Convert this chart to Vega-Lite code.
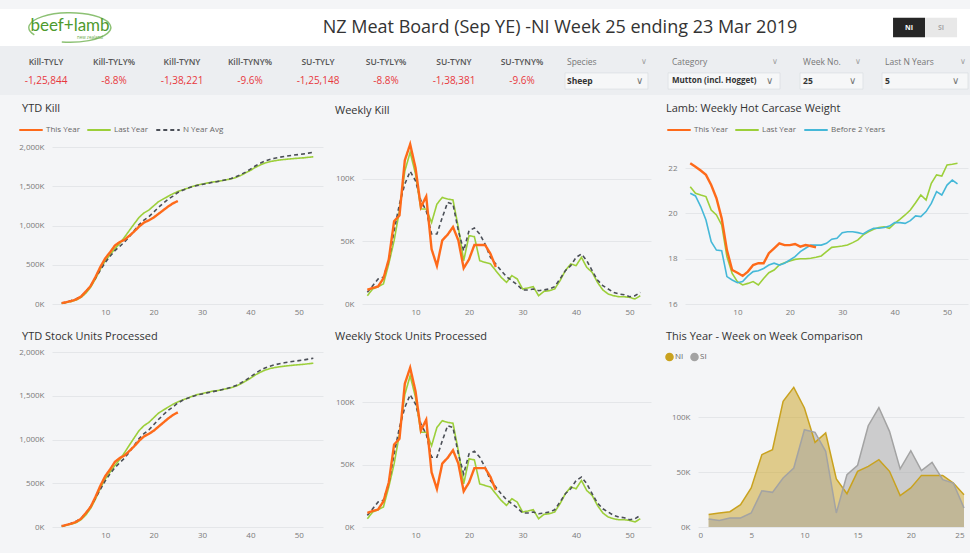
{
"$schema": "https://vega.github.io/schema/vega-lite/v6.json",
"background": "#f4f5f7",
"padding": {"left": 0, "top": 9, "right": 0, "bottom": 14},
"config": {
  "font": "Open Sans",
  "view": {"stroke": null},
  "axis": {"domain": false, "ticks": false, "labelColor": "#7a7a7a", "labelFontSize": 8, "gridColor": "#e4e6e9", "title": null},
  "axisX": {"grid": false, "labelPadding": 4},
  "axisY": {"labelPadding": 8},
  "title": {"anchor": "start", "fontSize": 11, "fontWeight": "normal", "color": "#333333", "frame": "group"},
  "legend": {"labelFontSize": 8, "labelColor": "#666666", "title": null}
},
"datasets": {
  "ytd": [
    {"w":1,"s":"This Year","v":11000},{"w":2,"s":"This Year","v":24000},{"w":3,"s":"This Year","v":38000},{"w":4,"s":"This Year","v":59000},{"w":5,"s":"This Year","v":94000},{"w":6,"s":"This Year","v":160000},{"w":7,"s":"This Year","v":231000},{"w":8,"s":"This Year","v":346000},{"w":9,"s":"This Year","v":473000},{"w":10,"s":"This Year","v":582000},{"w":11,"s":"This Year","v":659000},{"w":12,"s":"This Year","v":745000},{"w":13,"s":"This Year","v":789000},{"w":14,"s":"This Year","v":819000},{"w":15,"s":"This Year","v":870000},{"w":16,"s":"This Year","v":925000},{"w":17,"s":"This Year","v":986000},{"w":18,"s":"This Year","v":1037000},{"w":19,"s":"This Year","v":1066000},{"w":20,"s":"This Year","v":1101000},{"w":21,"s":"This Year","v":1148000},{"w":22,"s":"This Year","v":1195000},{"w":23,"s":"This Year","v":1242000},{"w":24,"s":"This Year","v":1282000},{"w":25,"s":"This Year","v":1312000},
    {"w":1,"s":"Last Year","v":7000},{"w":2,"s":"Last Year","v":19000},{"w":3,"s":"Last Year","v":33000},{"w":4,"s":"Last Year","v":50000},{"w":5,"s":"Last Year","v":84000},{"w":6,"s":"Last Year","v":138000},{"w":7,"s":"Last Year","v":215000},{"w":8,"s":"Last Year","v":322000},{"w":9,"s":"Last Year","v":445000},{"w":10,"s":"Last Year","v":550000},{"w":11,"s":"Last Year","v":628000},{"w":12,"s":"Last Year","v":705000},{"w":13,"s":"Last Year","v":772000},{"w":14,"s":"Last Year","v":852000},{"w":15,"s":"Last Year","v":938000},{"w":16,"s":"Last Year","v":1022000},{"w":17,"s":"Last Year","v":1104000},{"w":18,"s":"Last Year","v":1160000},{"w":19,"s":"Last Year","v":1196000},{"w":20,"s":"Last Year","v":1250000},{"w":21,"s":"Last Year","v":1303000},{"w":22,"s":"Last Year","v":1338000},{"w":23,"s":"Last Year","v":1372000},{"w":24,"s":"Last Year","v":1405000},{"w":25,"s":"Last Year","v":1432000},{"w":26,"s":"Last Year","v":1455000},{"w":27,"s":"Last Year","v":1474000},{"w":28,"s":"Last Year","v":1497000},{"w":29,"s":"Last Year","v":1515000},{"w":30,"s":"Last Year","v":1527000},{"w":31,"s":"Last Year","v":1540000},{"w":32,"s":"Last Year","v":1553000},{"w":33,"s":"Last Year","v":1560000},{"w":34,"s":"Last Year","v":1570000},{"w":35,"s":"Last Year","v":1582000},{"w":36,"s":"Last Year","v":1594000},{"w":37,"s":"Last Year","v":1612000},{"w":38,"s":"Last Year","v":1638000},{"w":39,"s":"Last Year","v":1670000},{"w":40,"s":"Last Year","v":1702000},{"w":41,"s":"Last Year","v":1740000},{"w":42,"s":"Last Year","v":1770000},{"w":43,"s":"Last Year","v":1795000},{"w":44,"s":"Last Year","v":1813000},{"w":45,"s":"Last Year","v":1825000},{"w":46,"s":"Last Year","v":1834000},{"w":47,"s":"Last Year","v":1841000},{"w":48,"s":"Last Year","v":1847000},{"w":49,"s":"Last Year","v":1853000},{"w":50,"s":"Last Year","v":1858000},{"w":51,"s":"Last Year","v":1862000},{"w":52,"s":"Last Year","v":1869000},{"w":53,"s":"Last Year","v":1875000},
    {"w":1,"s":"N Year Avg","v":9000},{"w":2,"s":"N Year Avg","v":24000},{"w":3,"s":"N Year Avg","v":44000},{"w":4,"s":"N Year Avg","v":65000},{"w":5,"s":"N Year Avg","v":100000},{"w":6,"s":"N Year Avg","v":158000},{"w":7,"s":"N Year Avg","v":236000},{"w":8,"s":"N Year Avg","v":330000},{"w":9,"s":"N Year Avg","v":432000},{"w":10,"s":"N Year Avg","v":528000},{"w":11,"s":"N Year Avg","v":608000},{"w":12,"s":"N Year Avg","v":680000},{"w":13,"s":"N Year Avg","v":735000},{"w":14,"s":"N Year Avg","v":790000},{"w":15,"s":"N Year Avg","v":858000},{"w":16,"s":"N Year Avg","v":936000},{"w":17,"s":"N Year Avg","v":1012000},{"w":18,"s":"N Year Avg","v":1068000},{"w":19,"s":"N Year Avg","v":1110000},{"w":20,"s":"N Year Avg","v":1170000},{"w":21,"s":"N Year Avg","v":1230000},{"w":22,"s":"N Year Avg","v":1285000},{"w":23,"s":"N Year Avg","v":1335000},{"w":24,"s":"N Year Avg","v":1375000},{"w":25,"s":"N Year Avg","v":1420000},{"w":26,"s":"N Year Avg","v":1450000},{"w":27,"s":"N Year Avg","v":1474000},{"w":28,"s":"N Year Avg","v":1494000},{"w":29,"s":"N Year Avg","v":1510000},{"w":30,"s":"N Year Avg","v":1523000},{"w":31,"s":"N Year Avg","v":1535000},{"w":32,"s":"N Year Avg","v":1547000},{"w":33,"s":"N Year Avg","v":1558000},{"w":34,"s":"N Year Avg","v":1570000},{"w":35,"s":"N Year Avg","v":1583000},{"w":36,"s":"N Year Avg","v":1598000},{"w":37,"s":"N Year Avg","v":1620000},{"w":38,"s":"N Year Avg","v":1648000},{"w":39,"s":"N Year Avg","v":1680000},{"w":40,"s":"N Year Avg","v":1718000},{"w":41,"s":"N Year Avg","v":1758000},{"w":42,"s":"N Year Avg","v":1793000},{"w":43,"s":"N Year Avg","v":1820000},{"w":44,"s":"N Year Avg","v":1840000},{"w":45,"s":"N Year Avg","v":1856000},{"w":46,"s":"N Year Avg","v":1869000},{"w":47,"s":"N Year Avg","v":1880000},{"w":48,"s":"N Year Avg","v":1889000},{"w":49,"s":"N Year Avg","v":1897000},{"w":50,"s":"N Year Avg","v":1904000},{"w":51,"s":"N Year Avg","v":1912000},{"w":52,"s":"N Year Avg","v":1922000},{"w":53,"s":"N Year Avg","v":1932000}
  ],
  "weekly": [
    {"w":1,"s":"This Year","v":11300},{"w":2,"s":"This Year","v":12800},{"w":3,"s":"This Year","v":14000},{"w":4,"s":"This Year","v":20400},{"w":5,"s":"This Year","v":35600},{"w":6,"s":"This Year","v":66000},{"w":7,"s":"This Year","v":70600},{"w":8,"s":"This Year","v":114600},{"w":9,"s":"This Year","v":127400},{"w":10,"s":"This Year","v":108600},{"w":11,"s":"This Year","v":77200},{"w":12,"s":"This Year","v":85800},{"w":13,"s":"This Year","v":43800},{"w":14,"s":"This Year","v":30400},{"w":15,"s":"This Year","v":50800},{"w":16,"s":"This Year","v":55300},{"w":17,"s":"This Year","v":61400},{"w":18,"s":"This Year","v":50800},{"w":19,"s":"This Year","v":28600},{"w":20,"s":"This Year","v":35600},{"w":21,"s":"This Year","v":47100},{"w":22,"s":"This Year","v":47100},{"w":23,"s":"This Year","v":47100},{"w":24,"s":"This Year","v":40100},{"w":25,"s":"This Year","v":29500},
    {"w":1,"s":"Last Year","v":6600},{"w":2,"s":"Last Year","v":12000},{"w":3,"s":"Last Year","v":13800},{"w":4,"s":"Last Year","v":16000},{"w":5,"s":"Last Year","v":32000},{"w":6,"s":"Last Year","v":50500},{"w":7,"s":"Last Year","v":74400},{"w":8,"s":"Last Year","v":106000},{"w":9,"s":"Last Year","v":121000},{"w":10,"s":"Last Year","v":103700},{"w":11,"s":"Last Year","v":75800},{"w":12,"s":"Last Year","v":75800},{"w":13,"s":"Last Year","v":65000},{"w":14,"s":"Last Year","v":79700},{"w":15,"s":"Last Year","v":85000},{"w":16,"s":"Last Year","v":83700},{"w":17,"s":"Last Year","v":83000},{"w":18,"s":"Last Year","v":61000},{"w":19,"s":"Last Year","v":34500},{"w":20,"s":"Last Year","v":54500},{"w":21,"s":"Last Year","v":53700},{"w":22,"s":"Last Year","v":34500},{"w":23,"s":"Last Year","v":33200},{"w":24,"s":"Last Year","v":32000},{"w":25,"s":"Last Year","v":26600},{"w":26,"s":"Last Year","v":21300},{"w":27,"s":"Last Year","v":17300},{"w":28,"s":"Last Year","v":22600},{"w":29,"s":"Last Year","v":20000},{"w":30,"s":"Last Year","v":12000},{"w":31,"s":"Last Year","v":12800},{"w":32,"s":"Last Year","v":13800},{"w":33,"s":"Last Year","v":6600},{"w":34,"s":"Last Year","v":10100},{"w":35,"s":"Last Year","v":10600},{"w":36,"s":"Last Year","v":12000},{"w":37,"s":"Last Year","v":18600},{"w":38,"s":"Last Year","v":26600},{"w":39,"s":"Last Year","v":32000},{"w":40,"s":"Last Year","v":30600},{"w":41,"s":"Last Year","v":37200},{"w":42,"s":"Last Year","v":29200},{"w":43,"s":"Last Year","v":25300},{"w":44,"s":"Last Year","v":17300},{"w":45,"s":"Last Year","v":11200},{"w":46,"s":"Last Year","v":8000},{"w":47,"s":"Last Year","v":6600},{"w":48,"s":"Last Year","v":5800},{"w":49,"s":"Last Year","v":5800},{"w":50,"s":"Last Year","v":5300},{"w":51,"s":"Last Year","v":4000},{"w":52,"s":"Last Year","v":6600},
    {"w":1,"s":"N Year Avg","v":9300},{"w":2,"s":"N Year Avg","v":14600},{"w":3,"s":"N Year Avg","v":20000},{"w":4,"s":"N Year Avg","v":21300},{"w":5,"s":"N Year Avg","v":34600},{"w":6,"s":"N Year Avg","v":58500},{"w":7,"s":"N Year Avg","v":79700},{"w":8,"s":"N Year Avg","v":95700},{"w":9,"s":"N Year Avg","v":105800},{"w":10,"s":"N Year Avg","v":98300},{"w":11,"s":"N Year Avg","v":82400},{"w":12,"s":"N Year Avg","v":74400},{"w":13,"s":"N Year Avg","v":55800},{"w":14,"s":"N Year Avg","v":55800},{"w":15,"s":"N Year Avg","v":69000},{"w":16,"s":"N Year Avg","v":81000},{"w":17,"s":"N Year Avg","v":79700},{"w":18,"s":"N Year Avg","v":58500},{"w":19,"s":"N Year Avg","v":42500},{"w":20,"s":"N Year Avg","v":58500},{"w":21,"s":"N Year Avg","v":60600},{"w":22,"s":"N Year Avg","v":55800},{"w":23,"s":"N Year Avg","v":47800},{"w":24,"s":"N Year Avg","v":37200},{"w":25,"s":"N Year Avg","v":31900},{"w":26,"s":"N Year Avg","v":26600},{"w":27,"s":"N Year Avg","v":21800},{"w":28,"s":"N Year Avg","v":18600},{"w":29,"s":"N Year Avg","v":15400},{"w":30,"s":"N Year Avg","v":11200},{"w":31,"s":"N Year Avg","v":11200},{"w":32,"s":"N Year Avg","v":12000},{"w":33,"s":"N Year Avg","v":10600},{"w":34,"s":"N Year Avg","v":11200},{"w":35,"s":"N Year Avg","v":12000},{"w":36,"s":"N Year Avg","v":13800},{"w":37,"s":"N Year Avg","v":20000},{"w":38,"s":"N Year Avg","v":26600},{"w":39,"s":"N Year Avg","v":30600},{"w":40,"s":"N Year Avg","v":37200},{"w":41,"s":"N Year Avg","v":39900},{"w":42,"s":"N Year Avg","v":34600},{"w":43,"s":"N Year Avg","v":26600},{"w":44,"s":"N Year Avg","v":19100},{"w":45,"s":"N Year Avg","v":14600},{"w":46,"s":"N Year Avg","v":12000},{"w":47,"s":"N Year Avg","v":9300},{"w":48,"s":"N Year Avg","v":8000},{"w":49,"s":"N Year Avg","v":7400},{"w":50,"s":"N Year Avg","v":5800},{"w":51,"s":"N Year Avg","v":6600},{"w":52,"s":"N Year Avg","v":9300}
  ],
  "lamb": [
    {"w":1,"s":"This Year","v":22.21},{"w":2,"s":"This Year","v":22.06},{"w":3,"s":"This Year","v":21.89},{"w":4,"s":"This Year","v":21.7},{"w":5,"s":"This Year","v":21.25},{"w":6,"s":"This Year","v":20.67},{"w":7,"s":"This Year","v":19.78},{"w":8,"s":"This Year","v":18.38},{"w":9,"s":"This Year","v":17.5},{"w":10,"s":"This Year","v":17.38},{"w":11,"s":"This Year","v":17.24},{"w":12,"s":"This Year","v":17.43},{"w":13,"s":"This Year","v":17.72},{"w":14,"s":"This Year","v":17.8},{"w":15,"s":"This Year","v":17.8},{"w":16,"s":"This Year","v":18.24},{"w":17,"s":"This Year","v":18.46},{"w":18,"s":"This Year","v":18.68},{"w":19,"s":"This Year","v":18.6},{"w":20,"s":"This Year","v":18.6},{"w":21,"s":"This Year","v":18.65},{"w":22,"s":"This Year","v":18.53},{"w":23,"s":"This Year","v":18.6},{"w":24,"s":"This Year","v":18.56},{"w":25,"s":"This Year","v":18.5},
    {"w":1,"s":"Last Year","v":21.18},{"w":2,"s":"Last Year","v":20.89},{"w":3,"s":"Last Year","v":20.81},{"w":4,"s":"Last Year","v":20.74},{"w":5,"s":"Last Year","v":20.15},{"w":6,"s":"Last Year","v":19.93},{"w":7,"s":"Last Year","v":19.49},{"w":8,"s":"Last Year","v":18.09},{"w":9,"s":"Last Year","v":17.35},{"w":10,"s":"Last Year","v":16.99},{"w":11,"s":"Last Year","v":16.84},{"w":12,"s":"Last Year","v":16.91},{"w":13,"s":"Last Year","v":16.99},{"w":14,"s":"Last Year","v":16.84},{"w":15,"s":"Last Year","v":17.13},{"w":16,"s":"Last Year","v":17.38},{"w":17,"s":"Last Year","v":17.5},{"w":18,"s":"Last Year","v":17.72},{"w":19,"s":"Last Year","v":17.82},{"w":20,"s":"Last Year","v":17.9},{"w":21,"s":"Last Year","v":17.97},{"w":22,"s":"Last Year","v":18.0},{"w":23,"s":"Last Year","v":18.0},{"w":24,"s":"Last Year","v":18.02},{"w":25,"s":"Last Year","v":18.06},{"w":26,"s":"Last Year","v":18.12},{"w":27,"s":"Last Year","v":18.31},{"w":28,"s":"Last Year","v":18.5},{"w":29,"s":"Last Year","v":18.53},{"w":30,"s":"Last Year","v":18.56},{"w":31,"s":"Last Year","v":18.6},{"w":32,"s":"Last Year","v":18.71},{"w":33,"s":"Last Year","v":18.83},{"w":34,"s":"Last Year","v":19.05},{"w":35,"s":"Last Year","v":19.19},{"w":36,"s":"Last Year","v":19.3},{"w":37,"s":"Last Year","v":19.38},{"w":38,"s":"Last Year","v":19.41},{"w":39,"s":"Last Year","v":19.34},{"w":40,"s":"Last Year","v":19.56},{"w":41,"s":"Last Year","v":19.74},{"w":42,"s":"Last Year","v":19.93},{"w":43,"s":"Last Year","v":20.15},{"w":44,"s":"Last Year","v":20.47},{"w":45,"s":"Last Year","v":20.81},{"w":46,"s":"Last Year","v":20.59},{"w":47,"s":"Last Year","v":21.33},{"w":48,"s":"Last Year","v":21.7},{"w":49,"s":"Last Year","v":21.65},{"w":50,"s":"Last Year","v":22.14},{"w":51,"s":"Last Year","v":22.17},{"w":52,"s":"Last Year","v":22.21},
    {"w":1,"s":"Before 2 Years","v":20.89},{"w":2,"s":"Before 2 Years","v":20.77},{"w":3,"s":"Before 2 Years","v":20.3},{"w":4,"s":"Before 2 Years","v":19.71},{"w":5,"s":"Before 2 Years","v":18.75},{"w":6,"s":"Before 2 Years","v":18.38},{"w":7,"s":"Before 2 Years","v":18.35},{"w":8,"s":"Before 2 Years","v":17.21},{"w":9,"s":"Before 2 Years","v":17.06},{"w":10,"s":"Before 2 Years","v":16.94},{"w":11,"s":"Before 2 Years","v":16.99},{"w":12,"s":"Before 2 Years","v":17.24},{"w":13,"s":"Before 2 Years","v":17.43},{"w":14,"s":"Before 2 Years","v":17.47},{"w":15,"s":"Before 2 Years","v":17.57},{"w":16,"s":"Before 2 Years","v":17.72},{"w":17,"s":"Before 2 Years","v":17.8},{"w":18,"s":"Before 2 Years","v":17.72},{"w":19,"s":"Before 2 Years","v":17.8},{"w":20,"s":"Before 2 Years","v":17.94},{"w":21,"s":"Before 2 Years","v":18.09},{"w":22,"s":"Before 2 Years","v":18.31},{"w":23,"s":"Before 2 Years","v":18.46},{"w":24,"s":"Before 2 Years","v":18.6},{"w":25,"s":"Before 2 Years","v":18.6},{"w":26,"s":"Before 2 Years","v":18.6},{"w":27,"s":"Before 2 Years","v":18.68},{"w":28,"s":"Before 2 Years","v":18.86},{"w":29,"s":"Before 2 Years","v":18.9},{"w":30,"s":"Before 2 Years","v":19.15},{"w":31,"s":"Before 2 Years","v":19.19},{"w":32,"s":"Before 2 Years","v":19.19},{"w":33,"s":"Before 2 Years","v":19.15},{"w":34,"s":"Before 2 Years","v":19.09},{"w":35,"s":"Before 2 Years","v":19.24},{"w":36,"s":"Before 2 Years","v":19.34},{"w":37,"s":"Before 2 Years","v":19.34},{"w":38,"s":"Before 2 Years","v":19.38},{"w":39,"s":"Before 2 Years","v":19.44},{"w":40,"s":"Before 2 Years","v":19.59},{"w":41,"s":"Before 2 Years","v":19.59},{"w":42,"s":"Before 2 Years","v":19.56},{"w":43,"s":"Before 2 Years","v":19.68},{"w":44,"s":"Before 2 Years","v":19.89},{"w":45,"s":"Before 2 Years","v":19.86},{"w":46,"s":"Before 2 Years","v":20.08},{"w":47,"s":"Before 2 Years","v":20.44},{"w":48,"s":"Before 2 Years","v":20.96},{"w":49,"s":"Before 2 Years","v":20.81},{"w":50,"s":"Before 2 Years","v":21.25},{"w":51,"s":"Before 2 Years","v":21.47},{"w":52,"s":"Before 2 Years","v":21.3}
  ],
  "wow": [
    {"w":1,"r":"NI","v":11300},{"w":2,"r":"NI","v":12800},{"w":3,"r":"NI","v":14000},{"w":4,"r":"NI","v":20400},{"w":5,"r":"NI","v":35600},{"w":6,"r":"NI","v":66000},{"w":7,"r":"NI","v":70600},{"w":8,"r":"NI","v":114600},{"w":9,"r":"NI","v":127400},{"w":10,"r":"NI","v":108600},{"w":11,"r":"NI","v":77200},{"w":12,"r":"NI","v":85800},{"w":13,"r":"NI","v":43800},{"w":14,"r":"NI","v":30400},{"w":15,"r":"NI","v":50800},{"w":16,"r":"NI","v":55300},{"w":17,"r":"NI","v":61400},{"w":18,"r":"NI","v":50800},{"w":19,"r":"NI","v":28600},{"w":20,"r":"NI","v":35600},{"w":21,"r":"NI","v":47100},{"w":22,"r":"NI","v":47100},{"w":23,"r":"NI","v":47100},{"w":24,"r":"NI","v":40100},{"w":25,"r":"NI","v":29500},
    {"w":1,"r":"SI","v":7300},{"w":2,"r":"SI","v":6000},{"w":3,"r":"SI","v":8200},{"w":4,"r":"SI","v":8200},{"w":5,"r":"SI","v":12800},{"w":6,"r":"SI","v":33000},{"w":7,"r":"SI","v":31600},{"w":8,"r":"SI","v":44700},{"w":9,"r":"SI","v":53800},{"w":10,"r":"SI","v":88800},{"w":11,"r":"SI","v":86400},{"w":12,"r":"SI","v":69000},{"w":13,"r":"SI","v":12800},{"w":14,"r":"SI","v":47700},{"w":15,"r":"SI","v":56300},{"w":16,"r":"SI","v":92400},{"w":17,"r":"SI","v":109000},{"w":18,"r":"SI","v":87300},{"w":19,"r":"SI","v":53000},{"w":20,"r":"SI","v":69600},{"w":21,"r":"SI","v":51400},{"w":22,"r":"SI","v":59000},{"w":23,"r":"SI","v":43200},{"w":24,"r":"SI","v":40000},{"w":25,"r":"SI","v":17300}
  ]
},
"resolve": {"scale": {"color": "independent", "strokeDash": "independent"}, "legend": {"color": "independent", "strokeDash": "independent"}},
"bounds": "full",
"spacing": 0,
"vconcat": [
  {
    "hconcat": [
      {
        "width": 140, "height": 37, "view": {"fill": "#ffffff"},
        "data": {"values": [{"brand": "beef+lamb", "sub": "new zealand"}]},
        "layer": [
          {"mark": {"type": "point", "shape": "M -0.2 0.353 A 1 0.36 0 1 0 -0.87 0.18", "size": 6724, "filled": false, "stroke": "#5da83a", "strokeWidth": 1.4}, "encoding": {}},
          {"mark": {"type": "text", "fontSize": 17, "font": "Lato", "color": "#4e9a2e", "dy": -2}, "encoding": {"text": {"field": "brand"}}},
          {"mark": {"type": "text", "fontSize": 4.5, "color": "#6aaa4a", "dx": 20, "dy": 10}, "encoding": {"text": {"field": "sub"}}}
        ]
      },
      {
        "width": 730, "height": 37, "view": {"fill": "#ffffff"},
        "data": {"values": [{"t": "NZ Meat Board (Sep YE) -NI Week 25 ending 23 Mar 2019"}]},
        "mark": {"type": "text", "fontSize": 18, "color": "#333333", "dx": 55, "dy": 0},
        "encoding": {"text": {"field": "t"}}
      },
      {
        "width": 100, "height": 37, "view": {"fill": "#ffffff"},
        "data": {"values": [{"r": "NI", "on": "yes"}, {"r": "SI", "on": "no"}]},
        "encoding": {
          "x": {"field": "r", "type": "nominal", "axis": null, "scale": {"type": "band", "paddingInner": 0, "paddingOuter": 0.5625, "align": 0.64}},
          "y": {"datum": "t", "type": "nominal", "axis": null, "scale": {"type": "band", "paddingInner": 0, "paddingOuter": 0.45}}
        },
        "layer": [
          {"mark": {"type": "rect"}, "encoding": {"color": {"condition": {"test": "datum.on == 'yes'", "value": "#262626"}, "value": "#e8e8e8"}}},
          {"mark": {"type": "text", "fontSize": 7, "fontWeight": "bold"}, "encoding": {"text": {"field": "r"}, "color": {"condition": {"test": "datum.on == 'yes'", "value": "#ffffff"}, "value": "#a8a8a8"}}}
        ]
      }
    ],
    "spacing": 0, "bounds": "flush"
  },
  {
    "hconcat": [
      {
        "width": 558, "height": 49, "view": {"fill": "#eceef1"},
        "data": {"values": [
          {"kpi": "Kill-TYLY", "val": "-1,25,844"}, {"kpi": "Kill-TYLY%", "val": "-8.8%"}, {"kpi": "Kill-TYNY", "val": "-1,38,221"}, {"kpi": "Kill-TYNY%", "val": "-9.6%"},
          {"kpi": "SU-TYLY", "val": "-1,25,148"}, {"kpi": "SU-TYLY%", "val": "-8.8%"}, {"kpi": "SU-TYNY", "val": "-1,38,381"}, {"kpi": "SU-TYNY%", "val": "-9.6%"}
        ]},
        "encoding": {"x": {"field": "kpi", "type": "nominal", "sort": null, "axis": null, "scale": {"type": "band", "paddingInner": 0, "paddingOuter": 0.103, "align": 0.857}}},
        "layer": [
          {"mark": {"type": "text", "fontSize": 8.5, "fontWeight": 600, "color": "#555555"}, "encoding": {"text": {"field": "kpi"}, "y": {"datum": "label", "type": "nominal", "axis": null, "scale": {"type": "band", "domain": ["label", "value"], "paddingInner": 0, "paddingOuter": 0.289, "align": 0.59}}}},
          {"mark": {"type": "text", "fontSize": 10, "color": "#e8383d"}, "encoding": {"text": {"field": "val"}, "y": {"datum": "value", "type": "nominal"}}}
        ]
      },
      {
        "width": 102, "height": 49, "view": {"fill": "#eceef1"},
        "data": {"values": [{"label": "Species", "value": "Sheep"}]},
        "layer": [
          {"mark": {"type": "bar", "fill": "#f6f7f8", "stroke": "#dcdfe3", "strokeWidth": 0.8, "height": {"band": 0.85}}, "encoding": {"x": {"datum": 0.069, "type": "quantitative", "axis": null, "scale": {"domain": [0, 1]}}, "x2": {"datum": 0.882}, "y": {"datum": "value", "type": "nominal", "axis": null, "scale": {"type": "band", "domain": ["label", "value"], "paddingInner": 0, "paddingOuter": 0.289, "align": 0.59}}}},
          {"mark": {"type": "text", "align": "left", "fontSize": 8.5, "color": "#777777"}, "encoding": {"text": {"field": "label"}, "x": {"datum": 0.088, "type": "quantitative"}, "y": {"datum": "label", "type": "nominal"}}},
          {"mark": {"type": "text", "text": "∨", "fontSize": 8, "color": "#a0a0a0"}, "encoding": {"x": {"datum": 0.843, "type": "quantitative"}, "y": {"datum": "label", "type": "nominal"}}},
          {"mark": {"type": "text", "align": "left", "fontSize": 8.5, "fontWeight": "bold", "color": "#333333"}, "encoding": {"text": {"field": "value"}, "x": {"datum": 0.088, "type": "quantitative"}, "y": {"datum": "value", "type": "nominal"}}},
          {"mark": {"type": "text", "text": "∨", "fontSize": 10, "color": "#777777"}, "encoding": {"x": {"datum": 0.8, "type": "quantitative"}, "y": {"datum": "value", "type": "nominal"}}}
        ]
      },
      {
        "width": 130, "height": 49, "view": {"fill": "#eceef1"},
        "data": {"values": [{"label": "Category", "value": "Mutton (incl. Hogget)"}]},
        "layer": [
          {"mark": {"type": "bar", "fill": "#f6f7f8", "stroke": "#dcdfe3", "strokeWidth": 0.8, "height": {"band": 0.85}}, "encoding": {"x": {"datum": 0.062, "type": "quantitative", "axis": null, "scale": {"domain": [0, 1]}}, "x2": {"datum": 0.923}, "y": {"datum": "value", "type": "nominal", "axis": null, "scale": {"type": "band", "domain": ["label", "value"], "paddingInner": 0, "paddingOuter": 0.289, "align": 0.59}}}},
          {"mark": {"type": "text", "align": "left", "fontSize": 8.5, "color": "#777777"}, "encoding": {"text": {"field": "label"}, "x": {"datum": 0.092, "type": "quantitative"}, "y": {"datum": "label", "type": "nominal"}}},
          {"mark": {"type": "text", "text": "∨", "fontSize": 8, "color": "#a0a0a0"}, "encoding": {"x": {"datum": 0.885, "type": "quantitative"}, "y": {"datum": "label", "type": "nominal"}}},
          {"mark": {"type": "text", "align": "left", "fontSize": 8, "fontWeight": "bold", "color": "#333333", "limit": 92}, "encoding": {"text": {"field": "value"}, "x": {"datum": 0.092, "type": "quantitative"}, "y": {"datum": "value", "type": "nominal"}}},
          {"mark": {"type": "text", "text": "∨", "fontSize": 10, "color": "#777777"}, "encoding": {"x": {"datum": 0.846, "type": "quantitative"}, "y": {"datum": "value", "type": "nominal"}}}
        ]
      },
      {
        "width": 82, "height": 49, "view": {"fill": "#eceef1"},
        "data": {"values": [{"label": "Week No.", "value": "25"}]},
        "layer": [
          {"mark": {"type": "bar", "fill": "#f6f7f8", "stroke": "#dcdfe3", "strokeWidth": 0.8, "height": {"band": 0.85}}, "encoding": {"x": {"datum": 0.122, "type": "quantitative", "axis": null, "scale": {"domain": [0, 1]}}, "x2": {"datum": 0.89}, "y": {"datum": "value", "type": "nominal", "axis": null, "scale": {"type": "band", "domain": ["label", "value"], "paddingInner": 0, "paddingOuter": 0.289, "align": 0.59}}}},
          {"mark": {"type": "text", "align": "left", "fontSize": 8.5, "color": "#777777"}, "encoding": {"text": {"field": "label"}, "x": {"datum": 0.159, "type": "quantitative"}, "y": {"datum": "label", "type": "nominal"}}},
          {"mark": {"type": "text", "text": "∨", "fontSize": 8, "color": "#a0a0a0"}, "encoding": {"x": {"datum": 0.83, "type": "quantitative"}, "y": {"datum": "label", "type": "nominal"}}},
          {"mark": {"type": "text", "align": "left", "fontSize": 8.5, "fontWeight": "bold", "color": "#333333"}, "encoding": {"text": {"field": "value"}, "x": {"datum": 0.159, "type": "quantitative"}, "y": {"datum": "value", "type": "nominal"}}},
          {"mark": {"type": "text", "text": "∨", "fontSize": 10, "color": "#777777"}, "encoding": {"x": {"datum": 0.768, "type": "quantitative"}, "y": {"datum": "value", "type": "nominal"}}}
        ]
      },
      {
        "width": 98, "height": 49, "view": {"fill": "#eceef1"},
        "data": {"values": [{"label": "Last N Years", "value": "5"}]},
        "layer": [
          {"mark": {"type": "bar", "fill": "#f6f7f8", "stroke": "#dcdfe3", "strokeWidth": 0.8, "height": {"band": 0.85}}, "encoding": {"x": {"datum": 0.102, "type": "quantitative", "axis": null, "scale": {"domain": [0, 1]}}, "x2": {"datum": 0.98}, "y": {"datum": "value", "type": "nominal", "axis": null, "scale": {"type": "band", "domain": ["label", "value"], "paddingInner": 0, "paddingOuter": 0.289, "align": 0.59}}}},
          {"mark": {"type": "text", "align": "left", "fontSize": 8.5, "color": "#777777"}, "encoding": {"text": {"field": "label"}, "x": {"datum": 0.133, "type": "quantitative"}, "y": {"datum": "label", "type": "nominal"}}},
          {"mark": {"type": "text", "text": "∨", "fontSize": 8, "color": "#a0a0a0"}, "encoding": {"x": {"datum": 0.929, "type": "quantitative"}, "y": {"datum": "label", "type": "nominal"}}},
          {"mark": {"type": "text", "align": "left", "fontSize": 8.5, "fontWeight": "bold", "color": "#333333"}, "encoding": {"text": {"field": "value"}, "x": {"datum": 0.133, "type": "quantitative"}, "y": {"datum": "value", "type": "nominal"}}},
          {"mark": {"type": "text", "text": "∨", "fontSize": 10, "color": "#777777"}, "encoding": {"x": {"datum": 0.857, "type": "quantitative"}, "y": {"datum": "value", "type": "nominal"}}}
        ]
      }
    ],
    "spacing": 0, "bounds": "flush"
  },
  {"width": 1, "height": 8, "data": {"values": []}, "mark": {"type": "point", "opacity": 0}, "encoding": {}},
  {
    "hconcat": [
      {"width": 52, "height": 1, "data": {"values": []}, "mark": {"type": "point", "opacity": 0}, "encoding": {}},
      {
        "width": 271, "height": 162,
        "title": {"text": "YTD Kill", "dx": -30, "offset": 3},
        "data": {"name": "ytd"},
        "encoding": {
          "x": {"field": "w", "type": "quantitative", "scale": {"domain": [-1, 55], "nice": false, "zero": false}, "axis": {"values": [10, 20, 30, 40, 50]}},
          "y": {"field": "v", "type": "quantitative", "scale": {"domain": [0, 2063700], "nice": false}, "axis": {"values": [0, 500000, 1000000, 1500000, 2000000], "labelExpr": "format(datum.value/1000, ',') + 'K'"}},
          "color": {"field": "s", "type": "nominal", "scale": {"domain": ["This Year", "Last Year", "N Year Avg"], "range": ["#fe6a1a", "#9ccf3a", "#4b4f57"]}, "legend": {"orient": "none", "legendX": -34, "legendY": -25, "direction": "horizontal", "symbolType": "stroke", "symbolSize": 550, "symbolStrokeWidth": 2, "columnPadding": 3, "labelOffset": 2}},
          "strokeDash": {"field": "s", "type": "nominal", "scale": {"domain": ["This Year", "Last Year", "N Year Avg"], "range": [[1, 0], [1, 0], [4, 3]]}, "legend": {"orient": "none", "legendX": -34, "legendY": -25, "direction": "horizontal", "symbolType": "stroke", "symbolSize": 550, "symbolStrokeWidth": 2, "columnPadding": 3, "labelOffset": 2}}
        },
        "layer": [
          {"transform": [{"filter": "datum.s != 'This Year'"}], "mark": {"type": "line", "strokeWidth": 1.6}},
          {"transform": [{"filter": "datum.s == 'This Year'"}], "mark": {"type": "line", "strokeWidth": 2.4}}
        ]
      },
      {"width": 39, "height": 1, "data": {"values": []}, "mark": {"type": "point", "opacity": 0}, "encoding": {}},
      {
        "width": 289, "height": 162,
        "title": {"text": "Weekly Kill", "dx": -27, "offset": 23},
        "data": {"name": "weekly"},
        "encoding": {
          "x": {"field": "w", "type": "quantitative", "scale": {"domain": [0, 54], "nice": false}, "axis": {"values": [10, 20, 30, 40, 50]}},
          "y": {"field": "v", "type": "quantitative", "scale": {"domain": [0, 129200], "nice": false}, "axis": {"values": [0, 50000, 100000], "labelExpr": "format(datum.value/1000, ',') + 'K'"}},
          "color": {"field": "s", "type": "nominal", "scale": {"domain": ["This Year", "Last Year", "N Year Avg"], "range": ["#fe6a1a", "#9ccf3a", "#4b4f57"]}, "legend": null},
          "strokeDash": {"field": "s", "type": "nominal", "scale": {"domain": ["This Year", "Last Year", "N Year Avg"], "range": [[1, 0], [1, 0], [4, 3]]}, "legend": null}
        },
        "layer": [
          {"transform": [{"filter": "datum.s != 'This Year'"}], "mark": {"type": "line", "strokeWidth": 1.6}},
          {"transform": [{"filter": "datum.s == 'This Year'"}], "mark": {"type": "line", "strokeWidth": 2.4}}
        ]
      },
      {"width": 34, "height": 1, "data": {"values": []}, "mark": {"type": "point", "opacity": 0}, "encoding": {}},
      {
        "width": 283, "height": 162,
        "title": {"text": "Lamb: Weekly Hot Carcase Weight", "dx": -19, "offset": 3},
        "data": {"name": "lamb"},
        "encoding": {
          "x": {"field": "w", "type": "quantitative", "scale": {"domain": [0, 54], "nice": false}, "axis": {"values": [10, 20, 30, 40, 50]}},
          "y": {"field": "v", "type": "quantitative", "scale": {"domain": [16, 23.15], "nice": false, "zero": false}, "axis": {"values": [16, 18, 20, 22]}},
          "color": {"field": "s", "type": "nominal", "scale": {"domain": ["This Year", "Last Year", "Before 2 Years"], "range": ["#fe6a1a", "#9ccf3a", "#45b8d8"]}, "legend": {"orient": "none", "legendX": -19, "legendY": -25, "direction": "horizontal", "symbolType": "stroke", "symbolSize": 550, "symbolStrokeWidth": 2, "columnPadding": 3, "labelOffset": 2}}
        },
        "layer": [
          {"transform": [{"filter": "datum.s != 'This Year'"}], "mark": {"type": "line", "strokeWidth": 1.6}},
          {"transform": [{"filter": "datum.s == 'This Year'"}], "mark": {"type": "line", "strokeWidth": 2.4}}
        ]
      }
    ],
    "spacing": 0, "bounds": "flush",
    "resolve": {"scale": {"color": "independent", "strokeDash": "independent"}, "legend": {"color": "independent", "strokeDash": "independent"}}
  },
  {"width": 1, "height": 15, "data": {"values": []}, "mark": {"type": "point", "opacity": 0}, "encoding": {}},
  {
    "hconcat": [
      {"width": 52, "height": 1, "data": {"values": []}, "mark": {"type": "point", "opacity": 0}, "encoding": {}},
      {
        "width": 271, "height": 177,
        "title": {"text": "YTD Stock Units Processed", "dx": -30, "offset": 6},
        "data": {"name": "ytd"},
        "encoding": {
          "x": {"field": "w", "type": "quantitative", "scale": {"domain": [-1, 55], "nice": false, "zero": false}, "axis": {"values": [10, 20, 30, 40, 50]}},
          "y": {"field": "v", "type": "quantitative", "scale": {"domain": [0, 2026000], "nice": false}, "axis": {"values": [0, 500000, 1000000, 1500000, 2000000], "labelExpr": "format(datum.value/1000, ',') + 'K'"}},
          "color": {"field": "s", "type": "nominal", "scale": {"domain": ["This Year", "Last Year", "N Year Avg"], "range": ["#fe6a1a", "#9ccf3a", "#4b4f57"]}, "legend": null},
          "strokeDash": {"field": "s", "type": "nominal", "scale": {"domain": ["This Year", "Last Year", "N Year Avg"], "range": [[1, 0], [1, 0], [4, 3]]}, "legend": null}
        },
        "layer": [
          {"transform": [{"filter": "datum.s != 'This Year'"}], "mark": {"type": "line", "strokeWidth": 1.6}},
          {"transform": [{"filter": "datum.s == 'This Year'"}], "mark": {"type": "line", "strokeWidth": 2.4}}
        ]
      },
      {"width": 39, "height": 1, "data": {"values": []}, "mark": {"type": "point", "opacity": 0}, "encoding": {}},
      {
        "width": 289, "height": 177,
        "title": {"text": "Weekly Stock Units Processed", "dx": -27, "offset": 8},
        "data": {"name": "weekly"},
        "encoding": {
          "x": {"field": "w", "type": "quantitative", "scale": {"domain": [0, 54], "nice": false}, "axis": {"values": [10, 20, 30, 40, 50]}},
          "y": {"field": "v", "type": "quantitative", "scale": {"domain": [0, 141600], "nice": false}, "axis": {"values": [0, 50000, 100000], "labelExpr": "format(datum.value/1000, ',') + 'K'"}},
          "color": {"field": "s", "type": "nominal", "scale": {"domain": ["This Year", "Last Year", "N Year Avg"], "range": ["#fe6a1a", "#9ccf3a", "#4b4f57"]}, "legend": null},
          "strokeDash": {"field": "s", "type": "nominal", "scale": {"domain": ["This Year", "Last Year", "N Year Avg"], "range": [[1, 0], [1, 0], [4, 3]]}, "legend": null}
        },
        "layer": [
          {"transform": [{"filter": "datum.s != 'This Year'"}], "mark": {"type": "line", "strokeWidth": 1.6}},
          {"transform": [{"filter": "datum.s == 'This Year'"}], "mark": {"type": "line", "strokeWidth": 2.4}}
        ]
      },
      {"width": 47, "height": 1, "data": {"values": []}, "mark": {"type": "point", "opacity": 0}, "encoding": {}},
      {
        "width": 266, "height": 177,
        "title": {"text": "This Year - Week on Week Comparison", "dx": -32, "offset": 8},
        "data": {"name": "wow"},
        "encoding": {
          "x": {"field": "w", "type": "quantitative", "scale": {"domain": [0, 25], "nice": false}, "axis": {"values": [0, 5, 10, 15, 20, 25]}},
          "y": {"field": "v", "type": "quantitative", "stack": null, "scale": {"domain": [0, 161500], "nice": false}, "axis": {"values": [0, 50000, 100000], "labelExpr": "format(datum.value/1000, ',') + 'K'"}},
          "color": {"field": "r", "type": "nominal", "scale": {"domain": ["NI", "SI"], "range": ["#c9a21f", "#a3a3a3"]}, "legend": {"orient": "none", "legendX": -33, "legendY": 2, "direction": "horizontal", "symbolType": "circle", "symbolSize": 50, "symbolOpacity": 1, "columnPadding": 3, "labelOffset": 1}}
        },
        "layer": [
          {"transform": [{"filter": "datum.r == 'NI'"}], "mark": {"type": "area", "opacity": 0.5}},
          {"transform": [{"filter": "datum.r == 'SI'"}], "mark": {"type": "area", "opacity": 0.5}},
          {"transform": [{"filter": "datum.r == 'NI'"}], "mark": {"type": "line", "strokeWidth": 1.5}},
          {"transform": [{"filter": "datum.r == 'SI'"}], "mark": {"type": "line", "strokeWidth": 1.5}}
        ]
      }
    ],
    "spacing": 0, "bounds": "flush",
    "resolve": {"scale": {"color": "independent", "strokeDash": "independent"}, "legend": {"color": "independent", "strokeDash": "independent"}}
  }
]
}
